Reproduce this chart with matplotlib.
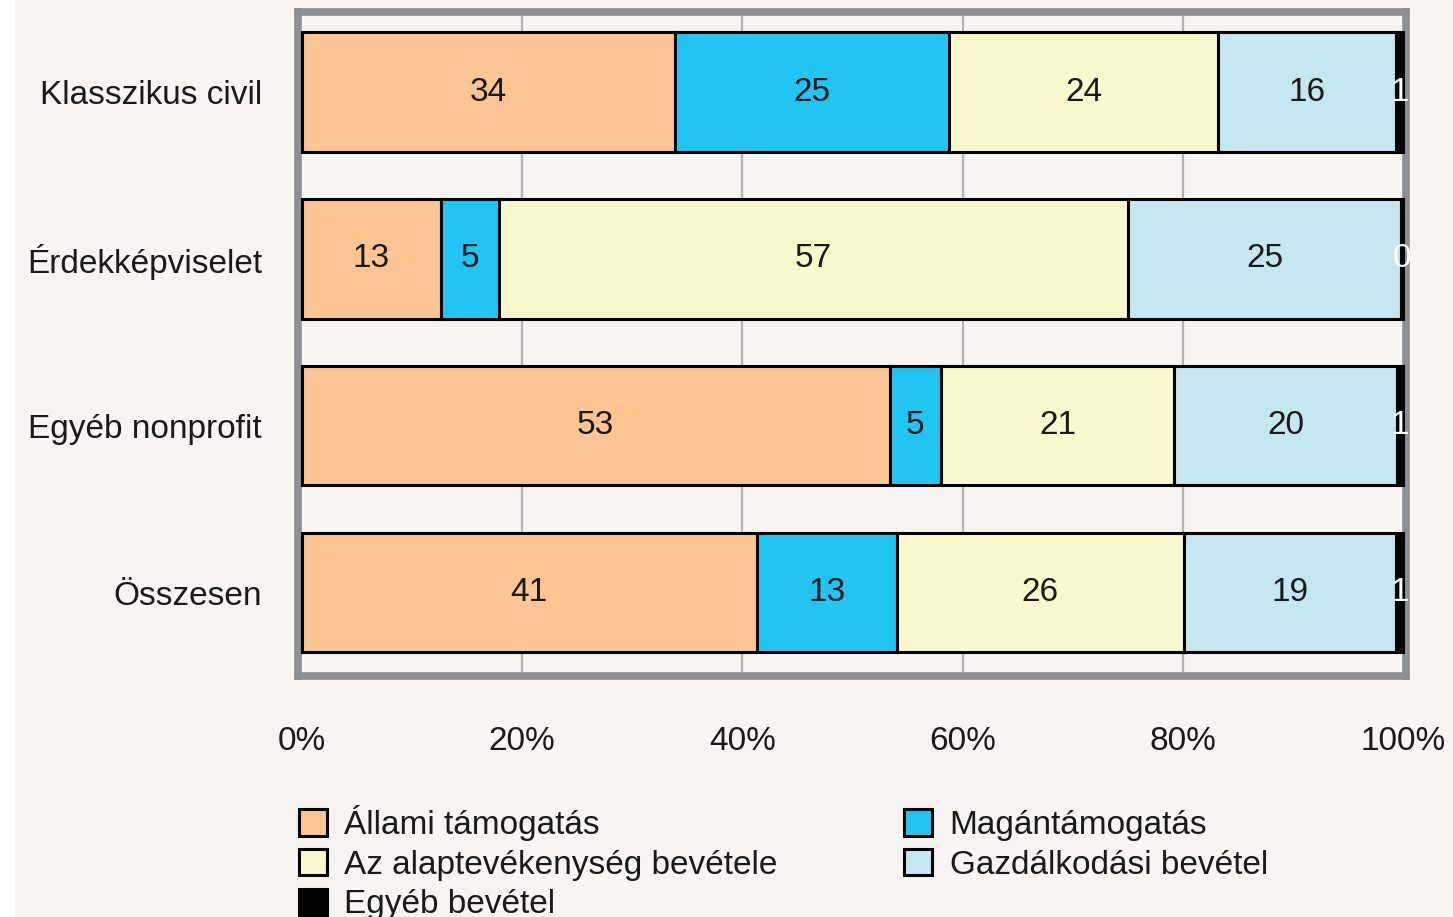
import numpy as np
import matplotlib.pyplot as plt
from matplotlib.patches import Rectangle

# Data (percent shares)
categories = ['Klasszikus civil', 'Érdekképviselet', 'Egyéb nonprofit', 'Összesen']
series_names = ['Állami támogatás', 'Magántámogatás', 'Az alaptevékenység bevétele',
                'Gazdálkodási bevétel', 'Egyéb bevétel']
allami = [33.9, 12.7, 53.4, 41.3]
magan = [24.9, 5.2, 4.6, 12.7]
alap = [24.4, 57.1, 21.2, 26.1]
gazd = [16.1, 24.8, 20.2, 19.2]
egyeb = [0.7, 0.2, 0.6, 0.7]
labels = [[34, 13, 53, 41], [25, 5, 5, 13], [24, 57, 21, 26], [16, 25, 20, 19], [1, 0, 1, 1]]
xticks = [0, 20, 40, 60, 80, 100]
xticklabels = ['0%', '20%', '40%', '60%', '80%', '100%']

colors = ['#FEC593', '#21C4F2', '#FAF8CC', '#C4E7F0', '#000000']
bg = '#F7F4F1'
fs = 24

plt.rcParams['font.family'] = ['Liberation Sans', 'DejaVu Sans']

fig = plt.figure(figsize=(14.53, 9.17), dpi=100, facecolor=bg)
# white strip on the left edge
fig.patches.append(Rectangle((0, 0), 15 / 1453, 1, transform=fig.transFigure,
                             facecolor='white', edgecolor='none', zorder=-1))
ax = fig.add_axes([298 / 1453, 1 - 676 / 917, 1108 / 1453, 664 / 917])
ax.set_facecolor(bg)

y = np.arange(len(categories))
data = [allami, magan, alap, gazd, egyeb]
left = np.zeros(len(categories))
handles = []
for i, vals in enumerate(data):
    vals = np.array(vals)
    bars = ax.barh(y, vals, left=left, height=0.716, color=colors[i],
                   edgecolor='black', linewidth=2.2, zorder=3, label=series_names[i])
    handles.append(bars)
    for j, v in enumerate(vals):
        tc = 'white' if i == 4 else '#1a1a1a'
        ax.text(left[j] + v / 2, y[j], str(labels[i][j]), ha='center', va='center',
                fontsize=fs, color=tc, zorder=4)
    left += vals

ax.set_ylim(3.5, -0.48)
ax.set_xlim(-0.32, 100.23)
ax.set_yticks(y)
ax.set_yticklabels(categories, fontsize=fs, color='#1a1a1a')
ax.set_xticks(xticks)
ax.set_xticklabels(xticklabels, fontsize=fs, color='#1a1a1a')
ax.tick_params(axis='both', length=0)
ax.tick_params(axis='y', pad=26)
ax.tick_params(axis='x', pad=36)

for gx in [20, 40, 60, 80]:
    ax.axvline(gx, color='#B4B4B4', linewidth=1.6, zorder=1)

for s in ax.spines.values():
    s.set_color('#8E9096')
    s.set_linewidth(5.5)
    s.set_zorder(2)

order = [0, 2, 4, 1, 3]
leg = fig.legend([handles[k] for k in order], [series_names[k] for k in order],
                 loc='upper left', bbox_to_anchor=(299 / 1453, 1 - 805 / 917),
                 ncol=2, frameon=False, fontsize=fs, borderpad=0, borderaxespad=0,
                 handlelength=0.84, handleheight=0.84, handletextpad=0.52,
                 columnspacing=3.8, labelspacing=0.24)
for t in leg.get_texts():
    t.set_color('#1a1a1a')

fig.savefig('out.png', dpi=100, facecolor=bg)
